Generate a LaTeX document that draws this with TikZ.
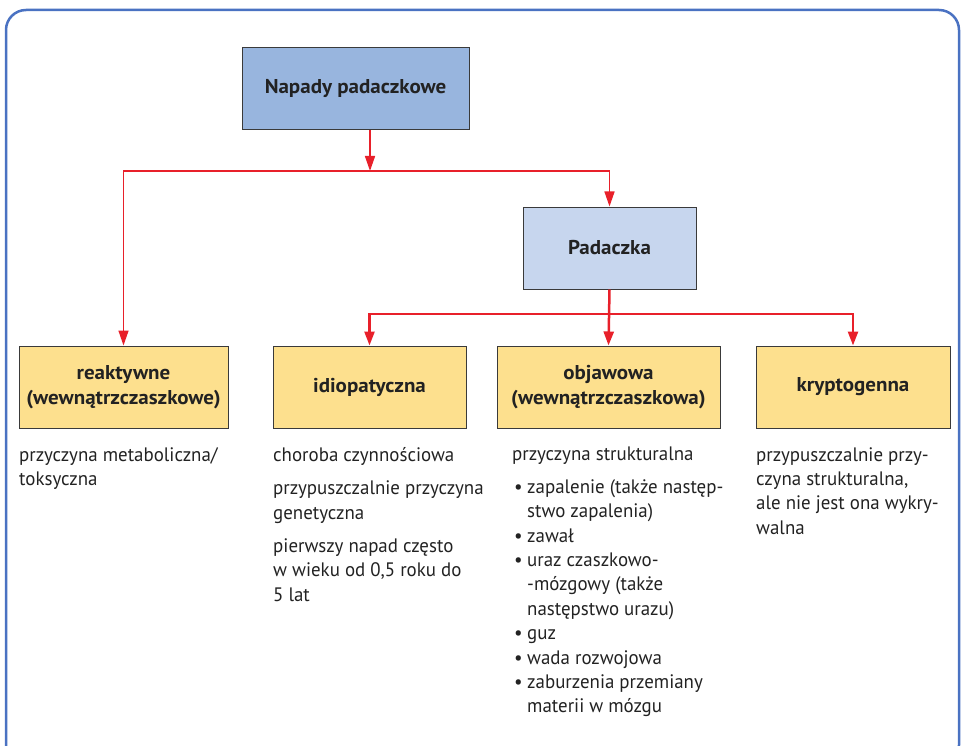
\documentclass[tikz,border=0pt]{standalone}
\usepackage{fontspec}
\setmainfont{PT Sans}[FakeStretch=0.97]
\newfontfamily\boxfont{PT Sans}[FakeStretch=1.05]
\usetikzlibrary{arrows.meta}
\definecolor{frameblue}{HTML}{4A72C2}
\definecolor{topfill}{HTML}{98B5DE}
\definecolor{midfill}{HTML}{C7D6EE}
\definecolor{yel}{HTML}{FDE08E}
\definecolor{arrred}{HTML}{E8202A}
\definecolor{boxline}{HTML}{3A3A3A}
\definecolor{txt}{HTML}{222222}
\tikzset{
  box/.style={draw=boxline, line width=1pt, minimum height=82pt, align=center,
    font=\boxfont\fontsize{20}{25}\selectfont\bfseries, text=txt, inner sep=0pt},
  desc/.style={anchor=north west, align=left, inner sep=0pt, text=txt,
    font=\fontsize{19.5}{24.4}\selectfont},
  thinarr/.style={draw=arrred, line width=1.5pt, -{Triangle[length=15pt,width=10pt]}},
  thickarr/.style={draw=arrred, line width=2.5pt, -{Triangle[length=14pt,width=10pt]}},
}
\newcommand{\bul}{\makebox[15pt][l]{\hspace*{2pt}•}}
\newcommand{\ind}{\hspace*{15pt}}
\begin{document}
\begin{tikzpicture}[x=1pt,y=-1pt]
\useasboundingbox (0,0) rectangle (963,746);
\begin{scope}
\clip (0,0) rectangle (963,746);
\draw[frameblue, line width=2.5pt, rounded corners=20pt] (6,10) rectangle (959,765);
\end{scope}

\node[box, fill=topfill, minimum width=227pt] (n) at (355.5,88.5) {Napady padaczkowe};
\node[box, fill=midfill, minimum width=173pt] (p) at (609.5,248) {Padaczka};
\node[box, fill=yel, minimum width=209pt] (r) at (123.5,387) {reaktywne\\(wewnątrzczaszkowe)};
\node[box, fill=yel, minimum width=193pt] (i) at (369.5,387) {idiopatyczna};
\node[box, fill=yel, minimum width=223pt] (o) at (608.5,387) {objawowa\\(wewnątrzczaszkowa)};
\node[box, fill=yel, minimum width=194pt] (k) at (853,387) {kryptogenna};

\coordinate (j1) at (370,171);
\coordinate (j2) at (608,314);

\draw[thinarr] (j1 |- n.south) -- (j1);
\draw[thinarr] (j1) -| (p.north);
\draw[thinarr] (j1) -| (r.north);
\draw[thickarr] (p.south) -- (o.north);
\draw[thickarr] (j2) -| (i.north);
\draw[thickarr] (j2) -| (k.north);

\node[desc] (dr) at (19,447) {przyczyna metaboliczna/\\toksyczna};
\node[desc] (di) at (273,447) {choroba czynnościowa\\[9pt]przypuszczalnie przyczyna\\genetyczna\\[9pt]pierwszy napad często\\w wieku od 0,5 roku do\\5 lat};
\node[desc] (do) at (512,447) {przyczyna strukturalna\\[8pt]\bul zapalenie (także następ-\\\ind stwo zapalenia)\\\bul zawał\\\bul uraz czaszkowo-\\\ind -mózgowy (także\\\ind następstwo urazu)\\\bul guz\\\bul wada rozwojowa\\\bul zaburzenia przemiany\\\ind materii w mózgu};
\node[desc] (dk) at (756,447) {przypuszczalnie przy-\\czyna strukturalna,\\ale nie jest ona wykry-\\walna};
\end{tikzpicture}
\end{document}
